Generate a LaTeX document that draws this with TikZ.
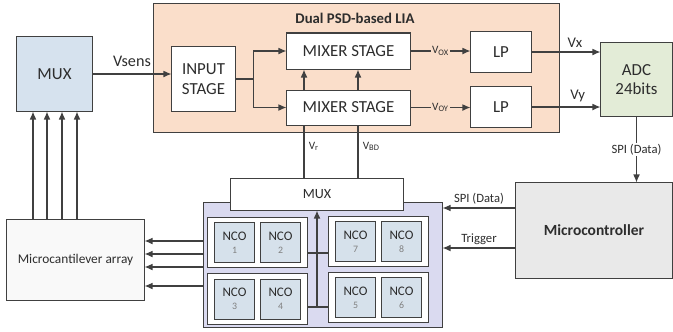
\documentclass[tikz,border=0pt]{standalone}
\usepackage{fontspec}
\setmainfont{Carlito}
\usetikzlibrary{arrows.meta}

\definecolor{liafill}{RGB}{250,222,202}
\definecolor{muxfill}{RGB}{214,226,238}
\definecolor{adcfill}{RGB}{227,236,215}
\definecolor{mcufill}{RGB}{233,233,233}
\definecolor{bankfill}{RGB}{218,218,240}
\definecolor{ncofill}{RGB}{214,225,235}
\definecolor{arrayfill}{RGB}{249,249,249}
\definecolor{linegray}{RGB}{64,64,64}
\definecolor{textgray}{RGB}{45,45,45}

\newcommand\ncodigit[1]{{\fontsize{7}{8}\selectfont\color{gray}#1}}

\tikzset{
	block/.style={draw=linegray, line width=.25mm, fill=white, text=textgray, align=center, inner sep=1pt},
	bigtext/.style={font=\fontsize{12}{13}\selectfont},
	smalltext/.style={font=\fontsize{9}{10}\selectfont},
	tinyv/.style={font=\fontsize{8}{9}\selectfont},
	tag/.style={text=textgray, inner sep=1pt},
	group/.style={block, minimum width=2.475cm, minimum height=1.25cm},
	nco/.style={block, fill=ncofill, minimum width=1cm, minimum height=1cm, font=\fontsize{9.3}{9}\selectfont}
}

\begin{document}
\begin{tikzpicture}[x=0.025cm, y=-0.025cm, color=linegray, line width=.3mm, >={Latex[length=2mm, width=1.7mm]}]
	\useasboundingbox (0,0) rectangle (673,331);
	% lock-in amplifier
	\node[block, fill=liafill, minimum width=10.125cm, minimum height=3.2cm] (lia) at (356.5,68) {};
	\node[tag, font=\bfseries\fontsize{10.5}{12}\selectfont] (liatitle) at (355,18) {Dual PSD-based LIA};
	\node[block, bigtext, minimum width=1.575cm, minimum height=1.6cm] (input) at (203.5,79) {INPUT\\[1pt]STAGE};
	\node[block, bigtext, minimum width=3.075cm, minimum height=.9cm] (mixA) at (348.5,51) {MIXER STAGE};
	\node[block, bigtext, minimum width=3.075cm, minimum height=.875cm] (mixB) at (348.5,107.5) {MIXER STAGE};
	\node[block, bigtext, minimum width=1.5cm, minimum height=1cm] (lpA) at (501,52) {LP};
	\node[block, bigtext, minimum width=1.5cm, minimum height=1cm] (lpB) at (501,107) {LP};

	\node[block, bigtext, fill=muxfill, minimum width=1.875cm, minimum height=1.85cm] (mux) at (54.5,74) {MUX};
	\node[block, bigtext, fill=adcfill, minimum width=1.775cm, minimum height=1.825cm] (adc) at (636.5,79.5) {ADC\\[1pt]24bits};
	\node[block, fill=mcufill, minimum width=3.9cm, minimum height=2.375cm, font=\bfseries\fontsize{11}{13}\selectfont] (mcu) at (594,230.5) {Microcontroller};
	\node[block, fill=arrayfill, minimum width=3.425cm, minimum height=2cm, font=\fontsize{9.5}{11}\selectfont] (array) at (75.5,260) {Microcantilever array};

	% NCO bank
	\node[block, fill=bankfill, minimum width=5.95cm, minimum height=3.1cm] (bank) at (323,265) {};
	\node[block, minimum width=4.3cm, minimum height=.8cm, font=\fontsize{10}{12}\selectfont] (mux2) at (317,194) {MUX};
	\node[group] (g12) at (257.5,242.5) {};
	\node[group] (g34) at (257.5,299) {};
	\node[group] (g78) at (378.5,241.5) {};
	\node[group] (g56) at (378.5,297.5) {};
	\foreach \g/\a/\b in {g12/1/2, g34/3/4, g78/7/8, g56/5/6} {
		\node[nco] (nco\a) at ([xshift=-.575cm]\g.center) {NCO\\\ncodigit{\a}};
		\node[nco] (nco\b) at ([xshift=.575cm]\g.center) {NCO\\\ncodigit{\b}};
	}
	\coordinate (bus) at (317,307);
	\draw (g12.east |- 0,253) -- (g78.west |- 0,253);
	\draw (g34.east |- 0,307) -- (g56.west |- 0,307);
	\draw[->] (bus) -- (mux2.south);

	% signal path
	\draw[->] (mux.east) -- (mux.east -| input.west) node[tag, midway, above=4pt, font=\fontsize{11.5}{12}\selectfont] {Vsens};
	\draw[->] (input.east) -- ++(18,0) |- (mixA.west);
	\draw[->] (input.east) -- ++(18,0) |- (mixB.west);
	\draw[->] (mixA.east) -- (mixA.east -| lpA.west) node[tag, tinyv, midway, fill=liafill] {V\textsubscript{OX}};
	\draw[->] (mixB.east) -- (mixB.east -| lpB.west) node[tag, tinyv, midway, fill=liafill] {V\textsubscript{OY}};
	\draw[->] (lpA.east) -- (lpA.east -| adc.west) node[tag, pos=.63, above=2pt, font=\fontsize{10.5}{12}\selectfont] {Vx};
	\draw[->] (lpB.east) -- (lpB.east -| adc.west) node[tag, pos=.67, above=2pt, font=\fontsize{10.5}{12}\selectfont] {Vy};
	\foreach \x/\v in {304/r, 358/BD} {
		\draw (mux2.north -| \x,0) -- (mixB.south -| \x,0) node[tag, tinyv, pos=.6, right=2pt] {V\textsubscript{\v}};
		\draw[->] (mixB.north -| \x,0) -- (mixA.south -| \x,0);
	}

	% control
	\draw[->] (adc.south) -- (adc.south |- mcu.north) node[tag, smalltext, midway, fill=white] {SPI (Data)};
	\coordinate (spi) at ([yshift=.5625cm]mcu.west);
	\coordinate (trig) at ([yshift=-.4375cm]mcu.west);
	\draw[->] (spi) -- (spi -| bank.east) node[tag, smalltext, midway, above=1pt] {SPI (Data)};
	\draw[->] (trig) -- (trig -| bank.east) node[tag, smalltext, midway, above=1pt] {Trigger};

	% excitation and readout of the cantilevers
	\foreach \y in {241,254,267,286}
		\draw[->] (bank.west |- 0,\y) -- (array.east |- 0,\y);
	\foreach \x in {33,47,62,77}
		\draw[->] (array.north -| \x,0) -- (mux.south -| \x,0);
\end{tikzpicture}
\end{document}
